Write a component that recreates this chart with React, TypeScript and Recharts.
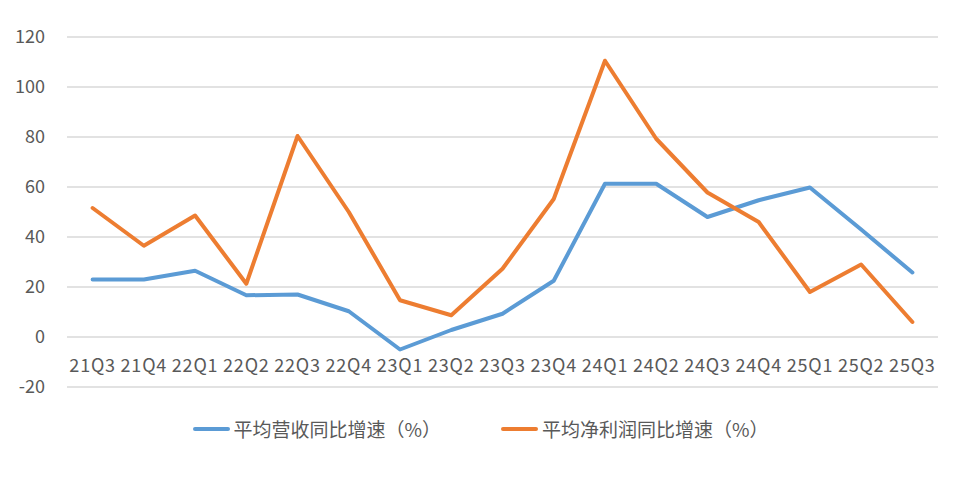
import React from "react";
import { LineChart, Line, XAxis, YAxis, CartesianGrid } from "recharts";

const quarters = [
  "21Q3", "21Q4", "22Q1", "22Q2", "22Q3", "22Q4", "23Q1", "23Q2", "23Q3",
  "23Q4", "24Q1", "24Q2", "24Q3", "24Q4", "25Q1", "25Q2", "25Q3",
];
const revenueGrowth = [23, 23, 26.5, 16.7, 17, 10.3, -5, 2.8, 9.3, 22.5, 61.3, 61.3, 48, 54.7, 59.8, 43, 25.8];
const profitGrowth = [51.6, 36.5, 48.6, 21.3, 80.4, 50, 14.7, 8.7, 27.3, 55.2, 110.5, 79.3, 57.8, 46, 18, 29, 6];
const yTicks = [-20, 0, 20, 40, 60, 80, 100, 120];

const seriesNames = ["平均营收同比增速（%）", "平均净利润同比增速（%）"];
const seriesColors = ["#5b9bd5", "#ed7d31"];

const W = 961;
const H = 483;
const Y_AXIS_W = 67;
const X_AXIS_H = 1;
const MARGIN = { top: 37, right: 23, bottom: 95, left: 0 };
const Y_MIN = -20;
const Y_MAX = 120;
const FONT = '"Noto Sans CJK SC", "Noto Sans", sans-serif';
const TEXT = "#595959";

const data = quarters.map((q, i) => ({
  q,
  revenue: revenueGrowth[i],
  profit: profitGrowth[i],
}));

// 点位于每个分类区间的中间（Excel 折线图样式）
const plotWidth = W - Y_AXIS_W - MARGIN.left - MARGIN.right;
const halfBand = plotWidth / quarters.length / 2;

// x 轴标签放在 0 线下方（坐标轴与数值轴在 0 处相交）
const plotHeight = H - MARGIN.top - MARGIN.bottom - X_AXIS_H;
const zeroOffset = (plotHeight * (0 - Y_MIN)) / (Y_MAX - Y_MIN);

const QuarterTick = (props: any) => {
  const { x, y, payload } = props;
  return (
    <text
      x={x}
      y={y - zeroOffset + 29}
      dy="0.35em"
      textAnchor="middle"
      fill={TEXT}
      fontSize={18}
      fontFamily={FONT}
      letterSpacing={0.8}
    >
      {payload.value}
    </text>
  );
};

export default function App() {
  return (
    <div
      style={{
        position: "absolute",
        left: 0,
        top: 0,
        width: W,
        height: H,
        background: "#fff",
        fontFamily: FONT,
      }}
    >
      <LineChart width={W} height={H} data={data} margin={MARGIN}>
        <CartesianGrid vertical={false} stroke="#d9d9d9" strokeWidth={1.5} />
        <XAxis
          dataKey="q"
          height={X_AXIS_H}
          axisLine={false}
          tickLine={false}
          tickSize={0}
          tickMargin={0}
          interval={0}
          padding={{ left: halfBand, right: halfBand }}
          tick={<QuarterTick />}
        />
        <YAxis
          width={Y_AXIS_W}
          domain={[Y_MIN, Y_MAX]}
          ticks={yTicks}
          axisLine={false}
          tickLine={false}
          tickSize={0}
          tickMargin={22}
          tick={{ fill: TEXT, fontSize: 18, fontFamily: FONT }}
        />
        <Line
          type="linear"
          dataKey="revenue"
          name={seriesNames[0]}
          stroke={seriesColors[0]}
          strokeWidth={4}
          strokeLinejoin="round"
          strokeLinecap="round"
          dot={false}
          isAnimationActive={false}
        />
        <Line
          type="linear"
          dataKey="profit"
          name={seriesNames[1]}
          stroke={seriesColors[1]}
          strokeWidth={4}
          strokeLinejoin="round"
          strokeLinecap="round"
          dot={false}
          isAnimationActive={false}
        />
      </LineChart>

      <div
        style={{
          position: "absolute",
          left: 0,
          top: 415,
          width: W,
          display: "flex",
          justifyContent: "center",
          gap: 60,
          color: TEXT,
          fontSize: 19,
          lineHeight: "28px",
        }}
      >
        {seriesNames.map((name, i) => (
          <div key={name} style={{ display: "flex", alignItems: "center" }}>
            <span
              style={{
                display: "inline-block",
                width: 37,
                height: 4,
                borderRadius: 2,
                background: seriesColors[i],
                marginRight: 4,
              }}
            />
            <span>{name}</span>
          </div>
        ))}
      </div>
    </div>
  );
}
